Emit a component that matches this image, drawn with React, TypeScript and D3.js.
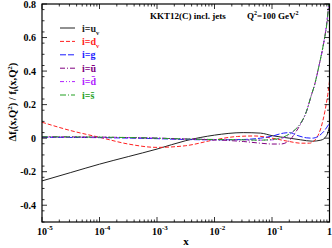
import { useMemo } from 'react';
import * as d3 from 'd3';

// log10(x) positions where curves are sampled
const uvLogX = [-5, -4.5, -4, -3.5, -3, -2.5, -2, -1.5, -1.2, -1, -0.7, -0.5, -0.3, -0.15, -0.05, 0];
const uvVals = [-0.255, -0.205, -0.155, -0.11, -0.065, -0.015, 0.018, 0.033, 0.03, 0.015, 0.0, -0.01, -0.018, -0.012, 0.015, 0.07];

const dvLogX = [-5, -4.5, -4, -3.5, -3, -2.5, -2, -1.6, -1.3, -1, -0.7, -0.5, -0.35, -0.25, -0.15, -0.08, -0.03, 0];
const dvVals = [0.095, 0.045, 0.005, -0.035, -0.055, -0.045, -0.01, 0.01, 0.013, 0.0, -0.02, -0.03, -0.03, -0.01, 0.06, 0.16, 0.26, 0.34];

const gLogX = [-5, -4, -3, -2.5, -2, -1.5, -1.2, -1, -0.8, -0.7, -0.55, -0.4, -0.3, -0.2, -0.1, 0];
const gVals = [0.005, 0.003, -0.003, -0.008, -0.01, -0.008, 0.0, 0.012, 0.03, 0.033, 0.015, 0.002, 0.0, 0.01, 0.04, 0.09];

const ubLogX = [-5, -4, -3, -2.5, -2, -1.5, -1.2, -1, -0.85, -0.7, -0.6, -0.5, -0.4, -0.33, -0.25, -0.19, -0.1, -0.05, 0];
const ubVals = [0.008, 0.006, 0.0, -0.005, -0.01, -0.02, -0.03, -0.035, -0.035, -0.015, 0.03, 0.085, 0.16, 0.24, 0.33, 0.42, 0.57, 0.68, 0.85];

const dbLogX = [-5, -4, -3, -2.5, -2, -1.5, -1.2, -1, -0.85, -0.7, -0.6, -0.5, -0.4, -0.33, -0.25, -0.19, -0.1, -0.05, 0];
const dbVals = [0.007, 0.005, 0.0, -0.005, -0.008, -0.01, -0.012, -0.01, -0.003, 0.02, 0.05, 0.09, 0.16, 0.24, 0.33, 0.42, 0.57, 0.68, 0.85];

const sbLogX = [-5, -4, -3, -2.5, -2, -1.5, -1.2, -1, -0.85, -0.7, -0.6, -0.5, -0.4, -0.33, -0.25, -0.19, -0.1, -0.05, 0];
const sbVals = [0.008, 0.006, 0.0, -0.005, -0.008, -0.01, -0.012, -0.008, 0.0, 0.025, 0.05, 0.09, 0.16, 0.24, 0.33, 0.42, 0.57, 0.67, 0.85];

const yTicks = [0.8, 0.6, 0.4, 0.2, 0, -0.2, -0.4];
const xDecades = [-5, -4, -3, -2, -1, 0];

const series = [
  { name: 'uv', logx: uvLogX, vals: uvVals, color: '#222222', dash: '' },
  { name: 'dv', logx: dvLogX, vals: dvVals, color: '#ff2020', dash: '4,2' },
  { name: 'g', logx: gLogX, vals: gVals, color: '#1a1aff', dash: '6,2' },
  { name: 'ub', logx: ubLogX, vals: ubVals, color: '#800080', dash: '5,2,1,2' },
  { name: 'db', logx: dbLogX, vals: dbVals, color: '#b020ff', dash: '4,2,1,2,1,2' },
  { name: 'sb', logx: sbLogX, vals: sbVals, color: '#22a022', dash: '6,2,1,2' },
];

const W = 332;
const H = 248;
const left = 42;
const right = 329.5;
const top = 4;
const bottom = 222;
const font = '"Liberation Serif", "Times New Roman", serif';

const App = () => {
  const x = d3.scaleLog().domain([1e-5, 1]).range([left, right]);
  const y = d3.scaleLinear().domain([-0.5, 0.8]).range([bottom, top]);

  const paths = useMemo(() => {
    const line = d3
      .line<[number, number]>()
      .x((d) => x(Math.pow(10, d[0])))
      .y((d) => y(d[1]))
      .curve(d3.curveMonotoneX);
    return series.map((s) => ({
      ...s,
      d: line(s.logx.map((lx, i) => [lx, s.vals[i]] as [number, number])) ?? '',
    }));
  }, []);

  const minorY = d3.range(-0.5, 0.8001, 0.2 / 3).filter((v) => !yTicks.some((t) => Math.abs(t - v) < 1e-6));
  const minorX: number[] = [];
  for (let e = -5; e < 0; e++) for (let k = 2; k <= 9; k++) minorX.push(k * Math.pow(10, e));

  const legend = [
    { color: '#222222', dash: '', label: 'u', sub: 'v' },
    { color: '#ff2020', dash: '4,2', label: 'd', sub: 'v' },
    { color: '#1a1aff', dash: '6,2', label: 'g', sub: '' },
    { color: '#800080', dash: '5,2,1,2', label: '\u016B', sub: '' },
    { color: '#b020ff', dash: '4,2,1,2,1,2', label: 'd\u0304', sub: '' },
    { color: '#22a022', dash: '6,2,1,2', label: 's\u0304', sub: '' },
  ];

  return (
    <svg
      width={W}
      height={H}
      style={{ position: 'fixed', left: 0, top: 0, background: '#fff' }}
      fontFamily={font}
      fontWeight="bold"
    >
      <defs>
        <clipPath id="plot">
          <rect x={left} y={top} width={right - left} height={bottom - top} />
        </clipPath>
      </defs>

      {/* curves */}
      <g clipPath="url(#plot)" fill="none">
        {paths.map((p) => (
          <path key={p.name} d={p.d} stroke={p.color} strokeWidth={1} strokeDasharray={p.dash} />
        ))}
      </g>

      {/* frame */}
      <rect x={left} y={top} width={right - left} height={bottom - top} fill="none" stroke="#000" strokeWidth={1.2} />

      {/* ticks, mirrored on all sides */}
      <g stroke="#000" strokeWidth={0.8}>
        {yTicks.map((t) => (
          <g key={t}>
            <line x1={left} x2={left + 5} y1={y(t)} y2={y(t)} />
            <line x1={right} x2={right - 5} y1={y(t)} y2={y(t)} />
          </g>
        ))}
        {minorY.map((t, i) => (
          <g key={i}>
            <line x1={left} x2={left + 2.5} y1={y(t)} y2={y(t)} />
            <line x1={right} x2={right - 2.5} y1={y(t)} y2={y(t)} />
          </g>
        ))}
        {xDecades.map((e) => (
          <g key={e}>
            <line x1={x(Math.pow(10, e))} x2={x(Math.pow(10, e))} y1={bottom} y2={bottom - 5} />
            <line x1={x(Math.pow(10, e))} x2={x(Math.pow(10, e))} y1={top} y2={top + 5} />
          </g>
        ))}
        {minorX.map((v, i) => (
          <g key={i}>
            <line x1={x(v)} x2={x(v)} y1={bottom} y2={bottom - 2.5} />
            <line x1={x(v)} x2={x(v)} y1={top} y2={top + 2.5} />
          </g>
        ))}
      </g>

      {/* y tick labels */}
      <g fontSize={10} textAnchor="end">
        {yTicks.map((t) => (
          <text key={t} x={36} y={y(t) + 3.5}>
            {t === 0 ? '0' : t.toFixed(1)}
          </text>
        ))}
      </g>

      {/* x tick labels */}
      <g fontSize={10}>
        {xDecades.map((e) =>
          e === 0 ? (
            <text key={e} x={x(1)} y={235} textAnchor="middle">
              1
            </text>
          ) : (
            <text key={e} x={x(Math.pow(10, e)) - 5} y={235}>
              10
              <tspan fontSize={7} dy={-5}>
                {e}
              </tspan>
            </text>
          ),
        )}
      </g>
      <text x={186} y={245} fontSize={11} textAnchor="middle">
        x
      </text>

      {/* y label */}
      <text transform="translate(16,102) rotate(-90)" fontSize={10.5} textAnchor="middle">
        Δf
        <tspan fontSize={7} dy={2}>i</tspan>
        <tspan dy={-2}>(x,Q</tspan>
        <tspan fontSize={7} dy={-4}>2</tspan>
        <tspan dy={4}>) / f</tspan>
        <tspan fontSize={7} dy={2}>i</tspan>
        <tspan dy={-2}>(x,Q</tspan>
        <tspan fontSize={7} dy={-4}>2</tspan>
        <tspan dy={4}>)</tspan>
      </text>

      {/* title */}
      <text x={150} y={19} fontSize={9}>
        KKT12(C) incl. jets
      </text>
      <text x={247} y={19} fontSize={9}>
        Q<tspan fontSize={6} dy={-4}>2</tspan>
        <tspan dy={4}>=100 GeV</tspan>
        <tspan fontSize={6} dy={-4}>2</tspan>
      </text>

      {/* legend */}
      {legend.map((l, i) => {
        const ly = 28 + i * 13.4;
        return (
          <g key={i}>
            <line x1={60} x2={75} y1={ly} y2={ly} stroke={l.color} strokeWidth={1} strokeDasharray={l.dash} />
            <text x={82} y={ly + 3.5} fontSize={10} fill={l.color}>
              {'i=' + l.label}
              {l.sub && (
                <tspan fontSize={6.5} dy={3}>
                  {l.sub}
                </tspan>
              )}
            </text>
          </g>
        );
      })}
    </svg>
  );
};

export default App;
